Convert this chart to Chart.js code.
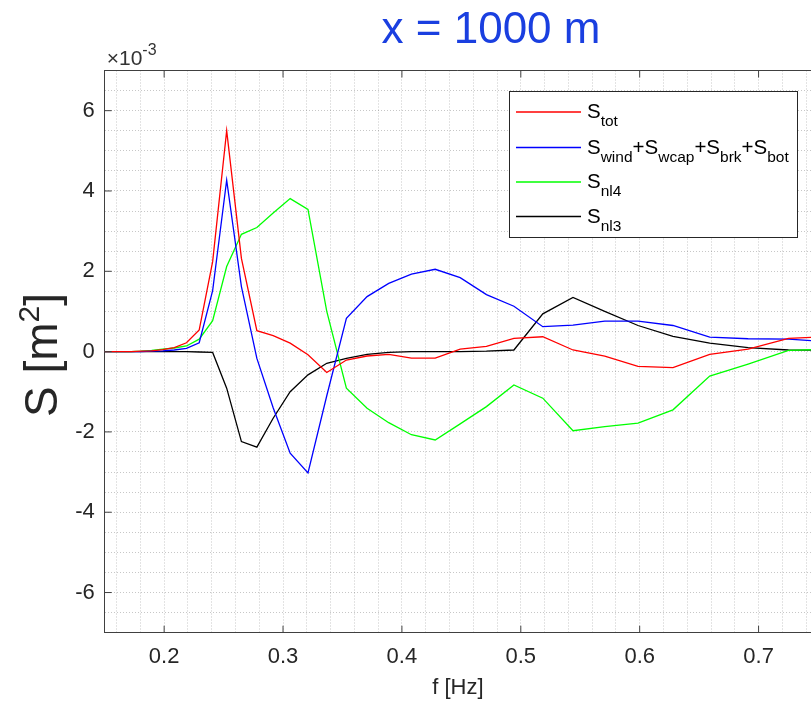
<!DOCTYPE html>
<html><head><meta charset="utf-8">
<script src="https://cdn.jsdelivr.net/npm/chart.js@4.4.1/dist/chart.umd.min.js"></script>
<style>html,body{margin:0;padding:0;background:#fff}#wrap{width:811px;height:703px;position:relative}canvas{display:block}</style>
</head><body><div id="wrap"><canvas id="c" width="811" height="703"></canvas></div>
<script>
// frequency bins [Hz]
const freqHz = [0.1491,0.1564,0.1641,0.1722,0.1806,0.1895,0.1988,0.2085,0.2188,0.2295,0.2408,0.2526,0.2650,0.2780,0.2917,0.3060,0.3210,0.3368,0.3533,0.3707,0.3889,0.4080,0.4280,0.4490,0.4711,0.4942,0.5185,0.5439,0.5706,0.5986,0.6280,0.6589,0.6912,0.7252,0.7608];
// source terms, units of 1e-3 m^2
const sTot = [0,0,0,0,0.01,0.02,0.05,0.10,0.22,0.54,2.24,5.50,2.32,0.52,0.40,0.21,-0.08,-0.52,-0.21,-0.11,-0.07,-0.16,-0.16,0.06,0.13,0.33,0.37,0.04,-0.11,-0.37,-0.40,-0.07,0.06,0.33,0.38];
const sSrc = [0,0,0,0,0,0.01,0.02,0.04,0.08,0.22,1.52,4.27,1.62,-0.17,-1.40,-2.53,-3.02,-1.10,0.83,1.37,1.70,1.93,2.05,1.84,1.42,1.13,0.62,0.66,0.76,0.76,0.65,0.36,0.32,0.31,0.24];
const sNl4 = [0,0,0,0,0.01,0.03,0.06,0.09,0.14,0.31,0.77,2.12,2.92,3.09,3.45,3.81,3.54,1.00,-0.91,-1.41,-1.77,-2.07,-2.20,-1.80,-1.37,-0.83,-1.16,-1.97,-1.87,-1.78,-1.45,-0.61,-0.31,0.03,0.06];
const sNl3 = [0,0,0,0,0,0,0,0,0,-0.01,-0.02,-0.91,-2.24,-2.38,-1.66,-1.00,-0.58,-0.29,-0.17,-0.07,-0.02,0,0,0,0.01,0.04,0.94,1.35,1.00,0.65,0.38,0.21,0.10,0.04,0.03];

const xTickLabels = ['0.2','0.3','0.4','0.5','0.6','0.7'];
const yTickLabels = ['-6','-4','-2','0','2','4','6'];
const titleText = 'x = 1000 m';
const xAxisLabel = 'f [Hz]';
const yAxisLabel = ['S [m', '2', ']'];
const exponentLabel = ['\u00d710', '-3'];
const legendEntries = [
  [['S','tot']],
  [['S','wind'],['+S','wcap'],['+S','brk'],['+S','bot']],
  [['S','nl4']],
  [['S','nl3']]
];
const seriesColors = ['#ff0000','#0000ff','#00ff00','#000000'];

const FONT = "'Liberation Sans', Arial, Helvetica, sans-serif";
const AX = '#404040';

function pts(ys){ return freqHz.map((f,i)=>({x:f,y:ys[i]})); }

const decor = {
  id:'decor',
  afterDatasetsDraw(chart){
    const ctx = chart.ctx, a = chart.chartArea;
    const xs = chart.scales.x, ys = chart.scales.y;
    ctx.save();
    ctx.strokeStyle = AX; ctx.lineWidth = 1;
    ctx.beginPath(); ctx.moveTo(a.left, a.top); ctx.lineTo(a.right, a.top); ctx.stroke();
    ctx.beginPath();
    xTickLabels.forEach(t=>{
      const px = xs.getPixelForValue(parseFloat(t));
      ctx.moveTo(px, a.bottom); ctx.lineTo(px, a.bottom-7);
      ctx.moveTo(px, a.top); ctx.lineTo(px, a.top+7);
    });
    yTickLabels.forEach(t=>{
      const py = ys.getPixelForValue(parseFloat(t));
      ctx.moveTo(a.left, py); ctx.lineTo(a.left+7, py);
    });
    ctx.stroke();
    const bx=509, by=91, bw=288, bh=146;
    ctx.fillStyle='#fff'; ctx.fillRect(bx,by,bw,bh);
    ctx.strokeStyle='#262626'; ctx.lineWidth=1; ctx.strokeRect(bx+0.5,by+0.5,bw,bh);
    const rowY=[112,147.5,182,216.5];
    legendEntries.forEach((entry,i)=>{
      ctx.strokeStyle=seriesColors[i]; ctx.lineWidth=1.3;
      ctx.beginPath(); ctx.moveTo(516,rowY[i]); ctx.lineTo(581,rowY[i]); ctx.stroke();
      let x=587; const base=rowY[i]+6;
      ctx.fillStyle='#000'; ctx.textBaseline='alphabetic'; ctx.textAlign='left';
      entry.forEach(([n,s])=>{
        ctx.font='20.5px '+FONT; ctx.fillText(n,x,base); x+=ctx.measureText(n).width;
        ctx.font='15.5px '+FONT; ctx.fillText(s,x,base+8); x+=ctx.measureText(s).width;
      });
    });
    ctx.restore();
  },
  afterDraw(chart){
    const ctx = chart.ctx, a = chart.chartArea;
    ctx.save();
    ctx.fillStyle='#1a3fe0'; ctx.font='44px '+FONT; ctx.textAlign='center'; ctx.textBaseline='alphabetic';
    ctx.fillText(titleText, 491, 43);
    ctx.fillStyle='#333'; ctx.textAlign='left';
    ctx.font='21px '+FONT; ctx.fillText(exponentLabel[0], a.left+2, 65);
    const w = ctx.measureText(exponentLabel[0]).width;
    ctx.font='16px '+FONT; ctx.fillText(exponentLabel[1], a.left+2+w, 55);
    ctx.translate(57, 355); ctx.rotate(-Math.PI/2);
    ctx.fillStyle='#262626';
    ctx.font='46px '+FONT; const w1=ctx.measureText(yAxisLabel[0]).width;
    ctx.font='30px '+FONT; const w2=ctx.measureText(yAxisLabel[1]).width;
    ctx.font='46px '+FONT; const w3=ctx.measureText(yAxisLabel[2]).width;
    let x=-(w1+w2+w3)/2;
    ctx.font='46px '+FONT; ctx.fillText(yAxisLabel[0], x, 0); x+=w1;
    ctx.font='30px '+FONT; ctx.fillText(yAxisLabel[1], x, -18); x+=w2;
    ctx.font='46px '+FONT; ctx.fillText(yAxisLabel[2], x, 0);
    ctx.restore();
  }
};

const gridCol = 'rgba(0,0,0,0.22)';
new Chart(document.getElementById('c'), {
  type:'line',
  data:{ datasets:[
    {label:'S_tot', data:pts(sTot), borderColor:seriesColors[0]},
    {label:'S_wind+S_wcap+S_brk+S_bot', data:pts(sSrc), borderColor:seriesColors[1]},
    {label:'S_nl4', data:pts(sNl4), borderColor:seriesColors[2]},
    {label:'S_nl3', data:pts(sNl3), borderColor:seriesColors[3]}
  ]},
  options:{
    responsive:false, animation:false, devicePixelRatio:1,
    parsing:false,
    elements:{ line:{borderWidth:1.3, tension:0, fill:false}, point:{radius:0, hoverRadius:0} },
    layout:{ autoPadding:false, padding:{top:70.5, left:0, right:0, bottom:0} },
    plugins:{ legend:{display:false}, title:{display:false}, tooltip:{enabled:false} },
    scales:{
      x:{ type:'linear', min:0.15, max:0.7441,
        afterFit(s){ s.height = 70.3; s.paddingLeft = 0; s.paddingRight = 0; },
        ticks:{ stepSize:0.02, includeBounds:false, autoSkip:false, maxRotation:0, padding:11,
          color:'#262626', font:{family:FONT, size:22},
          callback(v){ if (Math.abs(v*10-Math.round(v*10))<1e-6){ const s=(Math.round(v*10)/10).toFixed(1); return xTickLabels.includes(s)?s:''; } return ''; } },
        grid:{ color:gridCol, lineWidth:1, drawTicks:false },
        border:{ display:true, color:AX, width:1, dash:[1,2] },
        title:{ display:true, text:xAxisLabel, color:'#262626', font:{family:FONT, size:22}, padding:{top:0,bottom:2} }
      },
      y:{ type:'linear', min:-7, max:7,
        afterFit(s){ s.width = 104.7; s.paddingTop = 0; s.paddingBottom = 0; },
        ticks:{ stepSize:0.5, includeBounds:false, autoSkip:false, padding:10,
          color:'#262626', font:{family:FONT, size:22},
          callback(v){ if (Math.abs(v-Math.round(v))<1e-6){ const s=String(Math.round(v)); return yTickLabels.includes(s)?s:''; } return ''; } },
        grid:{ color:gridCol, lineWidth:1, drawTicks:false },
        border:{ display:true, color:AX, width:1, dash:[1,2] }
      }
    }
  },
  plugins:[decor]
});
</script></body></html>
